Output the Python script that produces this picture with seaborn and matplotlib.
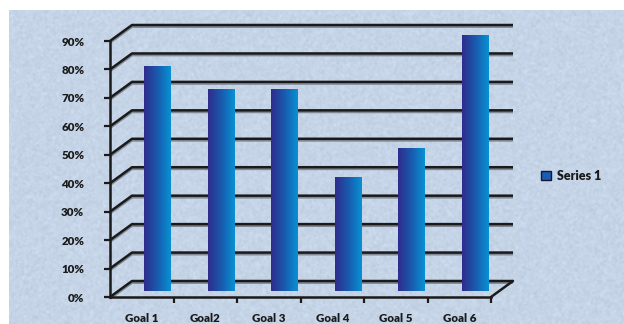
import numpy as np
import matplotlib
matplotlib.use("Agg")
import matplotlib.pyplot as plt
import seaborn as sns
from matplotlib.colors import LinearSegmentedColormap
from matplotlib.patches import Patch
from matplotlib.transforms import ScaledTranslation
from matplotlib.patheffects import SimpleLineShadow, Normal

# Data
goals = ["Goal 1", "Goal2", "Goal 3", "Goal 4", "Goal 5", "Goal 6"]
values = [79, 71, 71, 40, 50, 90]
y_ticks = [0, 10, 20, 30, 40, 50, 60, 70, 80, 90]
series_name = "Series 1"

sns.set_style("white")
plt.rcParams["font.family"] = ["Lato", "DejaVu Sans"]

W, H = 624, 324
fig = plt.figure(figsize=(W / 100, H / 100), dpi=100)
fig.patch.set_facecolor("white")

# Paper-like light blue backdrop with a soft grain
bg_w, bg_h = W - 9, H - 10
base = np.array([197, 213, 231]) / 255.0
rng = np.random.default_rng(3)
grain = rng.normal(0, 1, (bg_h, bg_w))
smooth = sum(np.roll(np.roll(grain, i, 0), j, 1) for i in (-1, 0, 1) for j in (-1, 0, 1)) / 9
tex = np.clip(base[None, None, :] + 0.035 * smooth[:, :, None], 0, 1)
fig.figimage(tex, xo=9, yo=0, zorder=-10)

# Axes: front edge of the floor / left wall
ax = fig.add_axes([110 / W, 27 / H, 381 / W, 256 / H])
ax.set_facecolor("none")
ax.set_zorder(2)

sns.barplot(x=goals, y=values, ax=ax, width=0.41, color="#1a5cb0",
            saturation=1, zorder=3)

# depth offsets
px_x = 381 / 6.0          # pixels per category
px_y = 256 / 90.0         # pixels per percent
back_dx, back_dy = 22 / px_x, 16 / px_y

ink = "#1a1a1a"
shadow = [SimpleLineShadow(offset=(0, -1.2), shadow_color="#6f7680", alpha=0.8), Normal()]

# back wall gridlines with the diagonal link to the left axis
for v in y_ticks:
    ax.plot([-0.5, -0.5 + back_dx, 5.5 + back_dx], [v, v + back_dy, v + back_dy],
            color=ink, lw=1.8, clip_on=False, zorder=1, solid_capstyle="butt",
            path_effects=shadow)
# right edge of the floor
ax.plot([5.5 + back_dx, 5.5], [back_dy, 0], color=ink, lw=1.8, clip_on=False, zorder=1)

# gradient fill for each bar, placed midway in depth
bar_shift = ax.transData + ScaledTranslation(15.5 / 100, 6.3 / 100, fig.dpi_scale_trans)
cmap = LinearSegmentedColormap.from_list("bar", ["#2f2c8c", "#1a5aae", "#0892d3"])
grad = np.linspace(0, 1, 256).reshape(1, -1)
for p in list(ax.patches):
    x0, y0, w, h = p.get_x(), p.get_y(), p.get_width(), p.get_height()
    p.set_transform(bar_shift)
    p.set_clip_on(False)
    p.set_edgecolor("none")
    im = ax.imshow(grad, extent=(x0, x0 + w, y0, y0 + h), aspect="auto",
                   cmap=cmap, zorder=4, interpolation="bilinear")
    im.set_transform(bar_shift)
    im.set_clip_on(False)

ax.set_xlim(-0.5, 5.5)
ax.set_ylim(0, 90)

for s in ["top", "right"]:
    ax.spines[s].set_visible(False)
for s in ["left", "bottom"]:
    ax.spines[s].set_color(ink)
    ax.spines[s].set_linewidth(1.8)
    ax.spines[s].set_zorder(5)

ax.set_yticks(y_ticks)
ax.set_yticklabels([f"{v}%" for v in y_ticks])
ax.set_xticks(range(len(goals)))
ax.set_xticklabels(goals)
ax.set_xticks([i + 0.5 for i in range(len(goals))], minor=True)
ax.tick_params(axis="y", which="major", left=True, length=4, width=1.6,
               color=ink, pad=14.5, labelsize=8.3, labelcolor=ink)
ax.tick_params(axis="x", which="major", bottom=False, length=0, pad=11.5,
               labelsize=8.3, labelcolor=ink)
ax.tick_params(axis="x", which="minor", bottom=True, length=4.5, width=1.6, color=ink)
for lab in ax.get_xticklabels() + ax.get_yticklabels():
    lab.set_fontweight("heavy")
ax.set_xlabel("")
ax.set_ylabel("")

handles = [Patch(facecolor="#1a5cb0", edgecolor="#15153a", linewidth=1.0)]
fig.legend(handles, [series_name], loc="center left",
           bbox_to_anchor=(541 / W, 1 - 176 / H), frameon=False,
           handlelength=0.8, handleheight=0.75, handletextpad=0.5,
           borderpad=0, borderaxespad=0,
           prop={"weight": "heavy", "size": 9})
for t in fig.legends[0].get_texts():
    t.set_color(ink)

fig.savefig("out.png", dpi=100)
